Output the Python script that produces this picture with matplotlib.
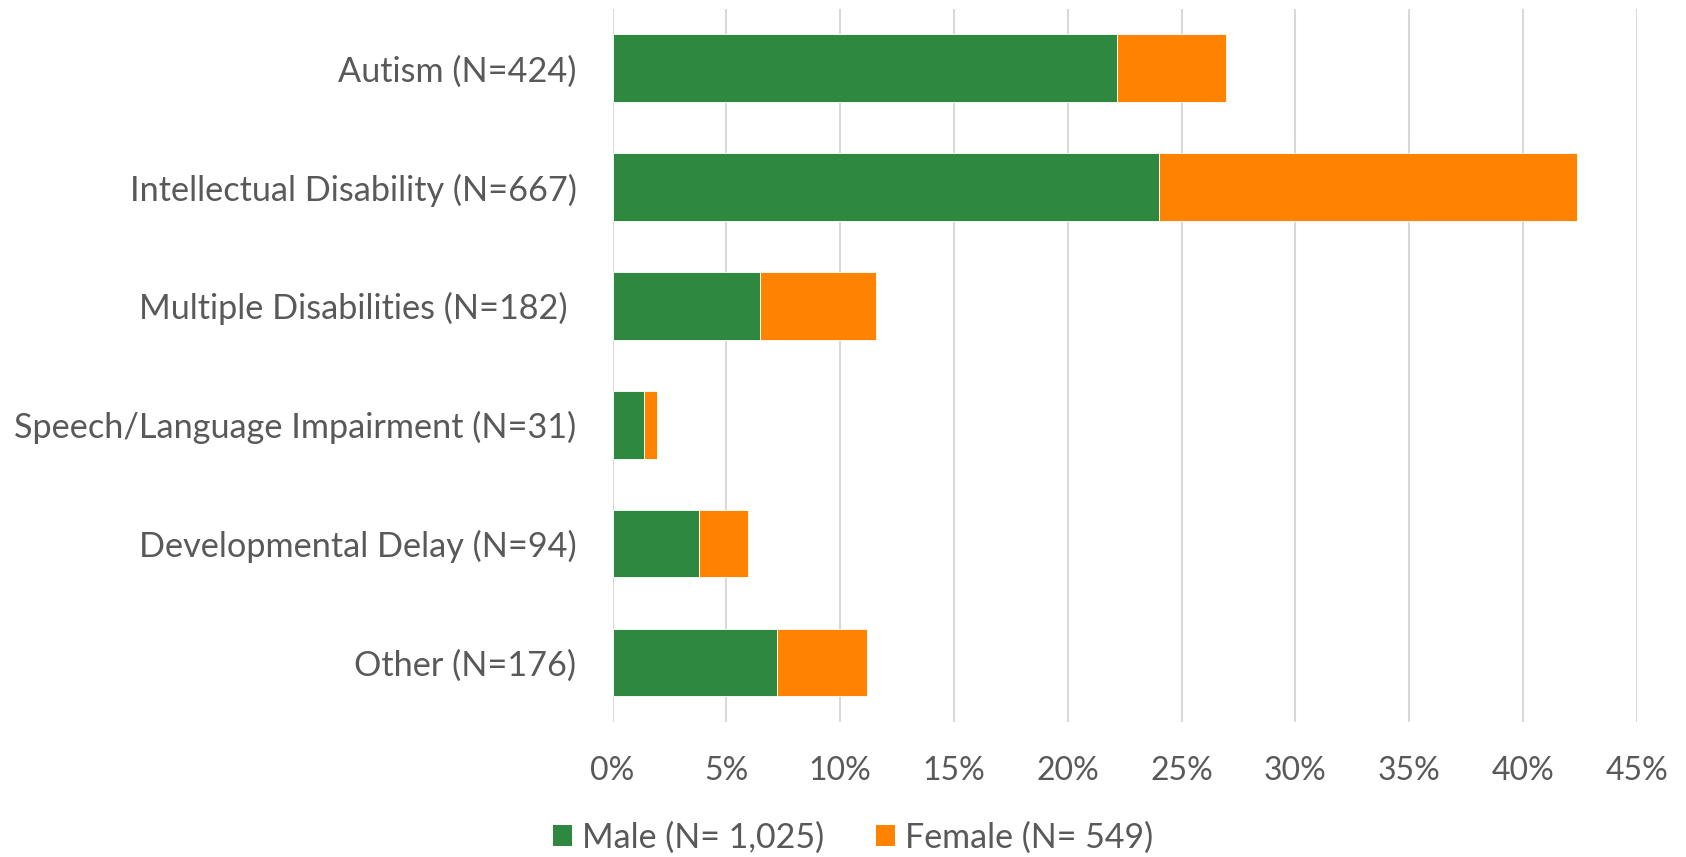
import matplotlib.pyplot as plt
from matplotlib.patches import Patch
from matplotlib.ticker import PercentFormatter

# Student counts by primary disability, split by gender
categories = ['Autism (N=424)', 'Intellectual Disability (N=667)',
              'Multiple Disabilities (N=182) ', 'Speech/Language Impairment (N=31)',
              'Developmental Delay (N=94)', 'Other (N=176)']
male = [349, 378, 102, 22, 60, 114]
female = [75, 289, 80, 9, 34, 62]
total_n = 1574

male_labels = 'Male (N= 1,025)'
female_labels = 'Female (N= 549)'

green = '#2F8840'
orange = '#FF8200'
text_grey = '#595959'

plt.rcParams['font.family'] = ['Lato', 'DejaVu Sans']

male_pct = [m / total_n for m in male]
female_pct = [f / total_n for f in female]
ypos = list(range(len(categories)))

fig = plt.figure(figsize=(16.86, 8.57), dpi=100)
ax = fig.add_axes([0.3633, 0.1578, 0.6076, 0.8318])

ax.barh(ypos, male_pct, height=0.57, color=green, edgecolor='white', linewidth=0.6, zorder=3)
ax.barh(ypos, female_pct, left=male_pct, height=0.57, color=orange,
        edgecolor='white', linewidth=0.6, zorder=3)

ax.set_xlim(0, 0.45)
ax.set_ylim(len(categories) - 0.5, -0.5)
ax.set_xticks([i * 0.05 for i in range(10)])
ax.xaxis.set_major_formatter(PercentFormatter(1.0, decimals=0))
ax.set_yticks(ypos)
ax.set_yticklabels(categories)

ax.grid(axis='x', color='#D9D9D9', linewidth=1.5, zorder=0)
for side in ['top', 'right', 'bottom', 'left']:
    ax.spines[side].set_visible(False)
ax.tick_params(axis='both', length=0, colors=text_grey)
ax.tick_params(axis='x', pad=25, labelsize=23)
ax.tick_params(axis='y', pad=26, labelsize=24.7)

handles = [Patch(facecolor=green), Patch(facecolor=orange)]
fig.legend(handles, [male_labels, female_labels], loc='center',
           bbox_to_anchor=(0.506, 0.0226), ncol=2, frameon=False,
           fontsize=24.5, labelcolor=text_grey, handlelength=0.56, handleheight=0.56,
           handletextpad=0.3, columnspacing=1.5)

plt.savefig('out.png', dpi=100)
